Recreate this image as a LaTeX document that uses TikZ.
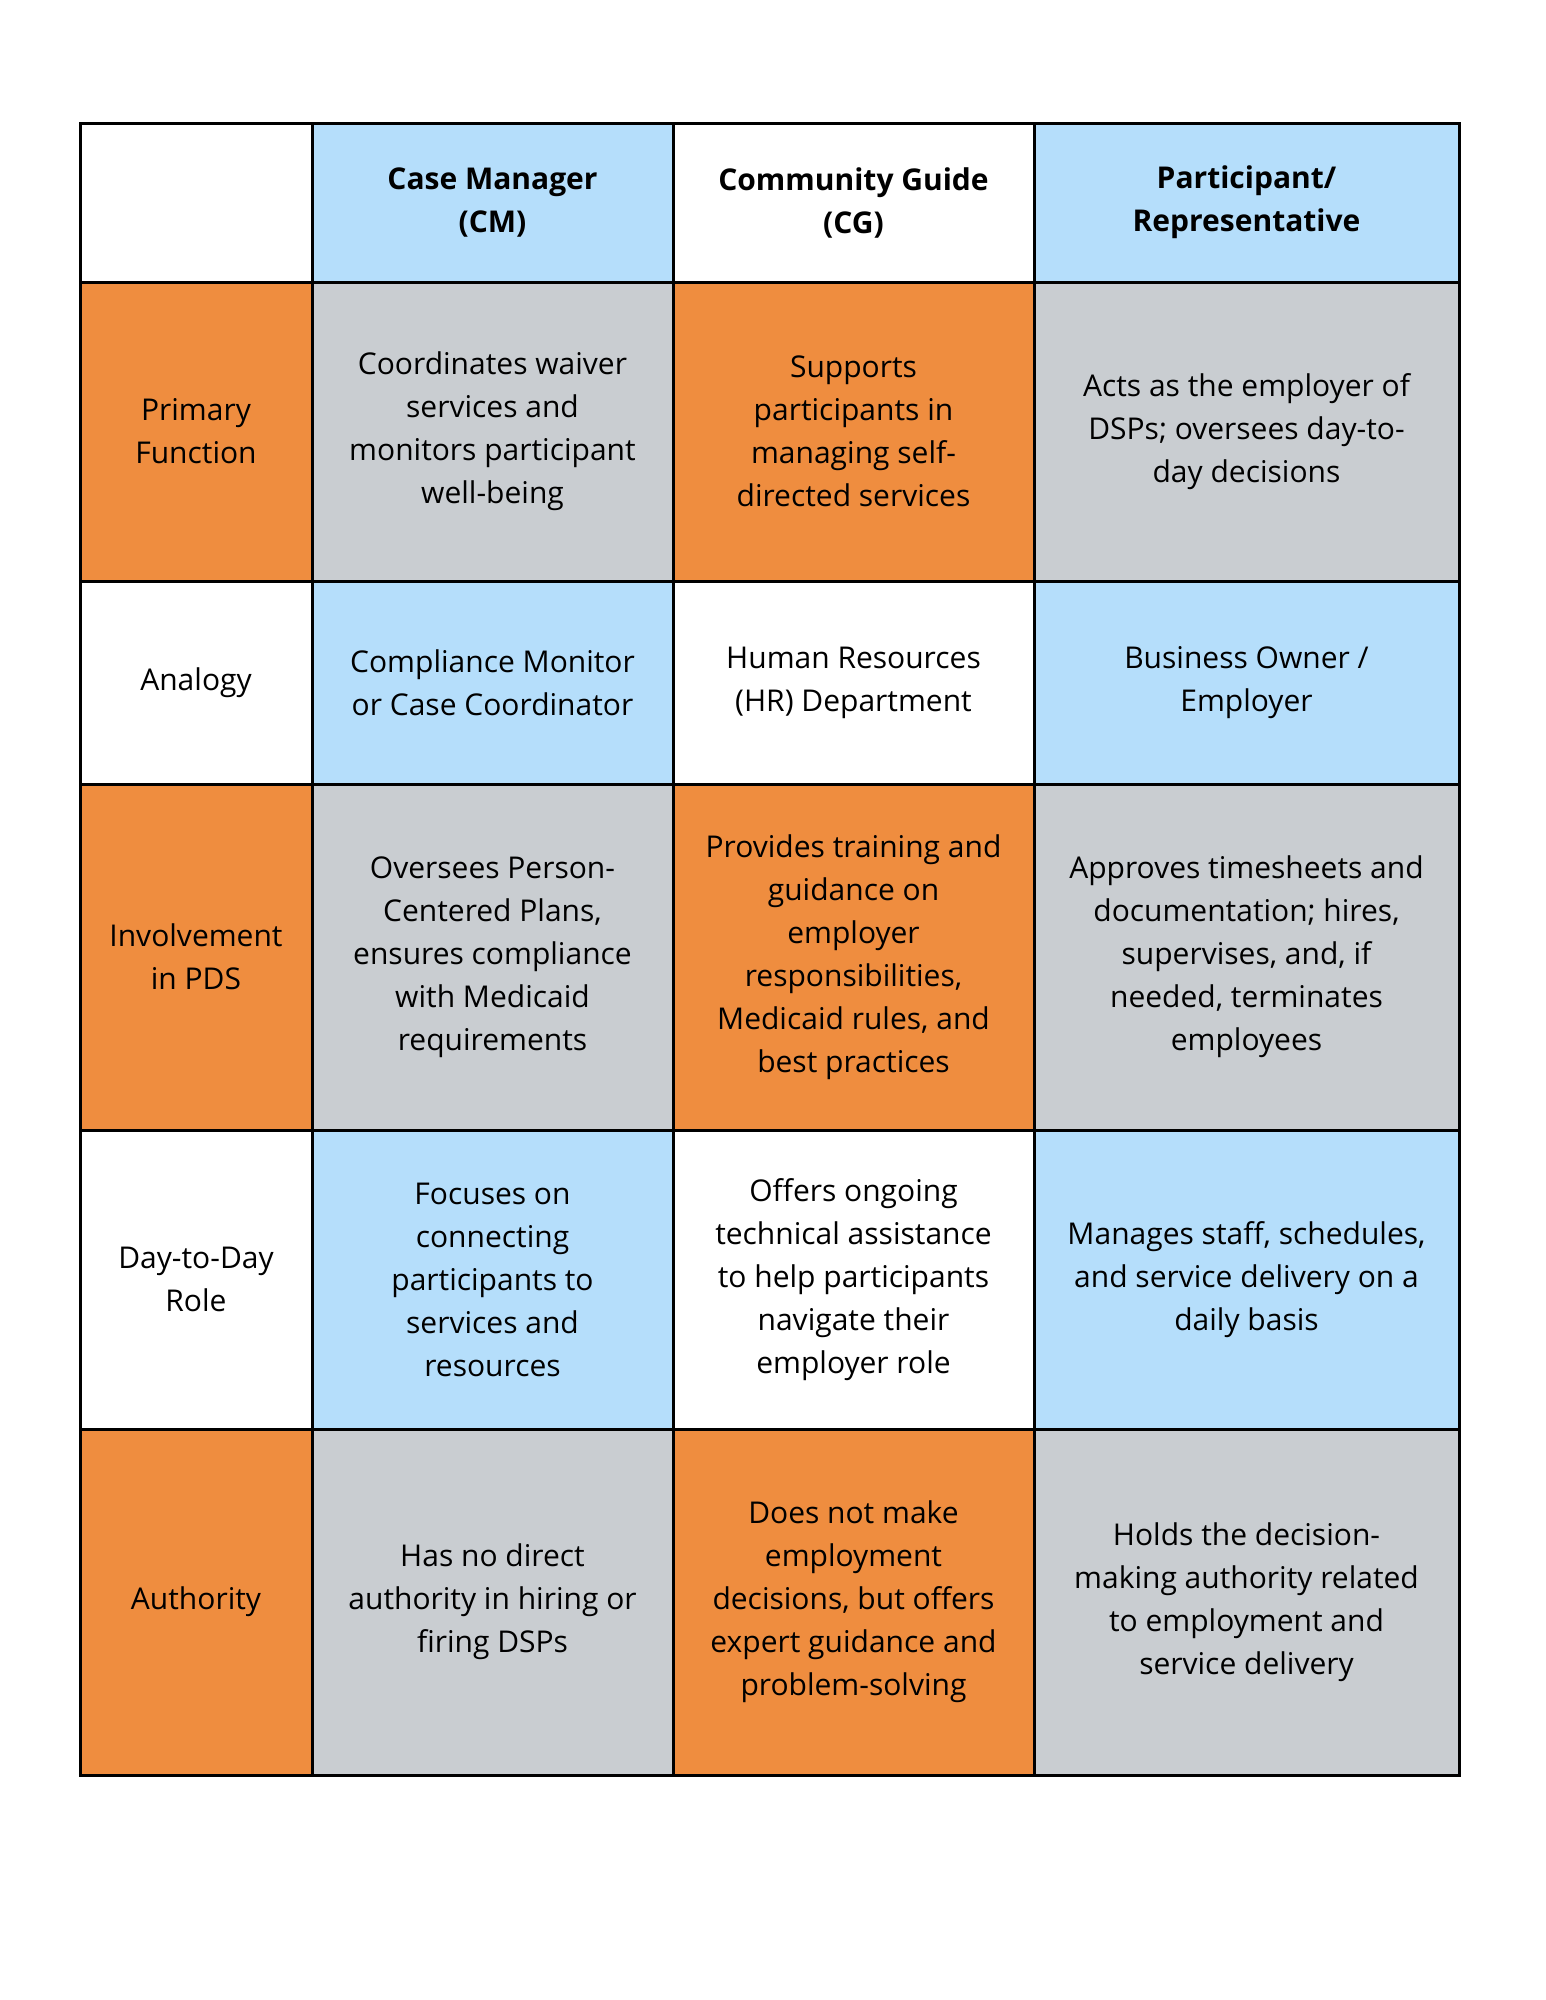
\documentclass[tikz,border=0pt]{standalone}
\usepackage{fontspec}
\setmainfont{Open Sans}
\usetikzlibrary{positioning}
\definecolor{cellorange}{HTML}{EF8D3F}
\definecolor{cellgray}{HTML}{C9CDD1}
\definecolor{cellblue}{HTML}{B5DEFB}
\newcommand{\tcell}[8]{%
    \node[#1, fill=#7, minimum width={#3-#2}, minimum height={#5-#4}]
        (#6) at ({(#2+#3)/2},{(#4+#5)/2}) {#8};}

\begin{document}
\begin{tikzpicture}[
        x = 1pt, y = -1pt,
        cell/.style = {draw = black, line width = 3pt, inner sep = 0pt,
            align = center, font = \fontsize{30}{43}\selectfont},
        head/.style = {cell, font = \fontsize{30}{43}\selectfont\bfseries}
    ]
    \useasboundingbox (0,0) rectangle (1545,2000);

    % column edges: 80, 312, 673, 1034, 1459
    % row edges: 123, 282, 581, 784, 1130, 1429, 1775

    % header row
    \tcell{head}{80}{312}{123}{282}{r0c0}{white}{}
    \tcell{head}{312}{673}{123}{282}{r0c1}{cellblue}{Case Manager\\(CM)}
    \tcell{head}{673}{1034}{123}{282}{r0c2}{white}{Community Guide\\(CG)}
    \tcell{head}{1034}{1459}{123}{282}{r0c3}{cellblue}{Participant/\\Representative}

    % primary function
    \tcell{cell}{80}{312}{282}{581}{r1c0}{cellorange}{Primary\\Function}
    \tcell{cell}{312}{673}{282}{581}{r1c1}{cellgray}{Coordinates waiver\\services and\\monitors participant\\well-being}
    \tcell{cell}{673}{1034}{282}{581}{r1c2}{cellorange}{Supports\\participants in\\managing self-\\directed services}
    \tcell{cell}{1034}{1459}{282}{581}{r1c3}{cellgray}{Acts as the employer of\\DSPs; oversees day-to-\\day decisions}

    % analogy
    \tcell{cell}{80}{312}{581}{784}{r2c0}{white}{Analogy}
    \tcell{cell}{312}{673}{581}{784}{r2c1}{cellblue}{Compliance Monitor\\or Case Coordinator}
    \tcell{cell}{673}{1034}{581}{784}{r2c2}{white}{Human Resources\\(HR) Department}
    \tcell{cell}{1034}{1459}{581}{784}{r2c3}{cellblue}{Business Owner /\\Employer}

    % involvement
    \tcell{cell}{80}{312}{784}{1130}{r3c0}{cellorange}{Involvement\\in PDS}
    \tcell{cell}{312}{673}{784}{1130}{r3c1}{cellgray}{Oversees Person-\\Centered Plans,\\ensures compliance\\with Medicaid\\requirements}
    \tcell{cell}{673}{1034}{784}{1130}{r3c2}{cellorange}{Provides training and\\guidance on\\employer\\responsibilities,\\Medicaid rules, and\\best practices}
    \tcell{cell}{1034}{1459}{784}{1130}{r3c3}{cellgray}{Approves timesheets and\\documentation; hires,\\supervises, and, if\\needed, terminates\\employees}

    % day-to-day
    \tcell{cell}{80}{312}{1130}{1429}{r4c0}{white}{Day-to-Day\\Role}
    \tcell{cell}{312}{673}{1130}{1429}{r4c1}{cellblue}{Focuses on\\connecting\\participants to\\services and\\resources}
    \tcell{cell}{673}{1034}{1130}{1429}{r4c2}{white}{Offers ongoing\\technical assistance\\to help participants\\navigate their\\employer role}
    \tcell{cell}{1034}{1459}{1130}{1429}{r4c3}{cellblue}{Manages staff, schedules,\\and service delivery on a\\daily basis}

    % authority
    \tcell{cell}{80}{312}{1429}{1775}{r5c0}{cellorange}{Authority}
    \tcell{cell}{312}{673}{1429}{1775}{r5c1}{cellgray}{Has no direct\\authority in hiring or\\firing DSPs}
    \tcell{cell}{673}{1034}{1429}{1775}{r5c2}{cellorange}{Does not make\\employment\\decisions, but offers\\expert guidance and\\problem-solving}
    \tcell{cell}{1034}{1459}{1429}{1775}{r5c3}{cellgray}{Holds the decision-\\making authority related\\to employment and\\service delivery}
\end{tikzpicture}
\end{document}
